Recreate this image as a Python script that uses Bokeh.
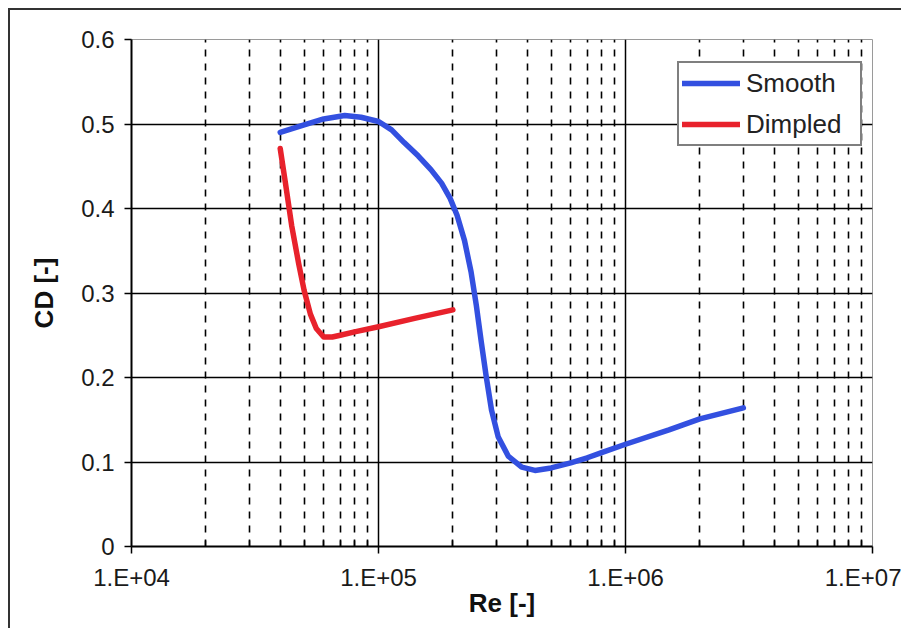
from bokeh.plotting import figure
from bokeh.models import FixedTicker, CustomJSTickFormatter, Legend, LegendItem
from bokeh.embed import file_html
from bokeh.resources import INLINE

# ---- data ----
smooth_re = [4.0e4, 5.0e4, 6.0e4, 7.3e4, 8.5e4, 1.0e5, 1.13e5, 1.27e5, 1.45e5, 1.63e5,
             1.8e5, 1.95e5, 2.08e5, 2.23e5, 2.37e5, 2.49e5, 2.61e5, 2.73e5, 2.87e5, 3.05e5,
             3.35e5, 3.8e5, 4.3e5, 5.0e5, 6.0e5, 7.0e5, 8.0e5, 1.0e6, 1.5e6, 2.0e6, 3.0e6]
smooth_cd = [0.490, 0.499, 0.506, 0.510, 0.508, 0.503, 0.493, 0.478, 0.462, 0.446,
             0.430, 0.412, 0.392, 0.362, 0.325, 0.285, 0.241, 0.201, 0.161, 0.130,
             0.107, 0.094, 0.090, 0.093, 0.099, 0.105, 0.111, 0.121, 0.138, 0.151, 0.164]

dimpled_re = [4.0e4, 4.2e4, 4.45e4, 4.75e4, 5.0e4, 5.3e4, 5.6e4, 6.0e4, 6.5e4, 7.0e4,
              8.0e4, 1.0e5, 1.4e5, 2.0e5]
dimpled_cd = [0.471, 0.430, 0.380, 0.335, 0.303, 0.275, 0.258, 0.248, 0.248, 0.250,
              0.254, 0.260, 0.270, 0.280]

x_major = [1e4, 1e5, 1e6, 1e7]
x_minor = [m * 10 ** e for e in (4, 5, 6) for m in range(2, 10)]
y_ticks = [0, 0.1, 0.2, 0.3, 0.4, 0.5, 0.6]

BLUE = "#3350e0"
RED = "#e8222c"
FONT = "Liberation Sans"

p = figure(width=893, height=620, x_axis_type="log",
           x_range=(1e4, 1e7), y_range=(0, 0.6),
           output_backend="svg", toolbar_location=None,
           min_border_left=121, min_border_right=31,
           min_border_top=29, min_border_bottom=84)
p.styles = {"margin-left": "8px", "margin-top": "8px",
            "border-left": "2px solid #333333", "border-top": "2px solid #333333"}

p.outline_line_color = "#9a9a9a"
p.outline_line_width = 1
p.background_fill_color = "white"
p.border_fill_color = "white"

# x axis
p.xaxis.ticker = FixedTicker(ticks=x_major, minor_ticks=x_minor)
p.xaxis.formatter = CustomJSTickFormatter(code="return '1.E+0' + Math.round(Math.log10(tick));")
p.xaxis.axis_label = "Re [-]"
p.xaxis.major_tick_out = 7
p.xaxis.major_tick_in = 0
p.xaxis.minor_tick_in = 6
p.xaxis.minor_tick_out = 0
p.xaxis.major_label_standoff = 10
p.xaxis.axis_label_standoff = -6

# y axis
p.yaxis.ticker = FixedTicker(ticks=y_ticks)
p.yaxis.formatter = CustomJSTickFormatter(code="return tick == 0 ? '0' : tick.toFixed(1);")
p.yaxis.axis_label = "CD [-]"
p.yaxis.major_tick_out = 7
p.yaxis.major_tick_in = 0
p.yaxis.minor_tick_line_color = None
p.yaxis.major_label_standoff = 10
p.yaxis.axis_label_standoff = 19

for ax in (p.xaxis, p.yaxis):
    ax.axis_line_color = "black"
    ax.axis_line_width = 2
    ax.major_tick_line_color = "black"
    ax.major_tick_line_width = 1.5
    ax.minor_tick_line_color = "black"
    ax.minor_tick_line_width = 1.5
    ax.major_label_text_font = FONT
    ax.major_label_text_font_size = "24px"
    ax.major_label_text_color = "#1a1a1a"
    ax.axis_label_text_font = FONT
    ax.axis_label_text_font_size = "26px"
    ax.axis_label_text_font_style = "bold"
    ax.axis_label_text_color = "#111111"

# grids
p.xgrid.ticker = FixedTicker(ticks=[1e5, 1e6], minor_ticks=x_minor)
p.xgrid.grid_line_color = "black"
p.xgrid.grid_line_width = 1.5
p.xgrid.minor_grid_line_color = "black"
p.xgrid.minor_grid_line_width = 1.6
p.xgrid.minor_grid_line_dash = "7 7"
p.ygrid.ticker = FixedTicker(ticks=[0.1, 0.2, 0.3, 0.4, 0.5])
p.ygrid.grid_line_color = "black"
p.ygrid.grid_line_width = 1.5

r1 = p.line(smooth_re, smooth_cd, line_color=BLUE, line_width=5.5, line_join="round", line_cap="round")
r2 = p.line(dimpled_re, dimpled_cd, line_color=RED, line_width=5.5, line_join="round", line_cap="round")

legend = Legend(items=[LegendItem(label="Smooth", renderers=[r1]),
                       LegendItem(label="Dimpled", renderers=[r2])],
                location=(546, 400), margin=0, padding=3, spacing=7,
                glyph_width=58, glyph_height=34, label_standoff=6, label_width=111,
                label_text_font=FONT, label_text_font_size="26px",
                label_text_color="#222222",
                border_line_color="black", border_line_width=2,
                background_fill_color="white", background_fill_alpha=1)
p.add_layout(legend)

open("out.html", "w").write(file_html(p, INLINE))
